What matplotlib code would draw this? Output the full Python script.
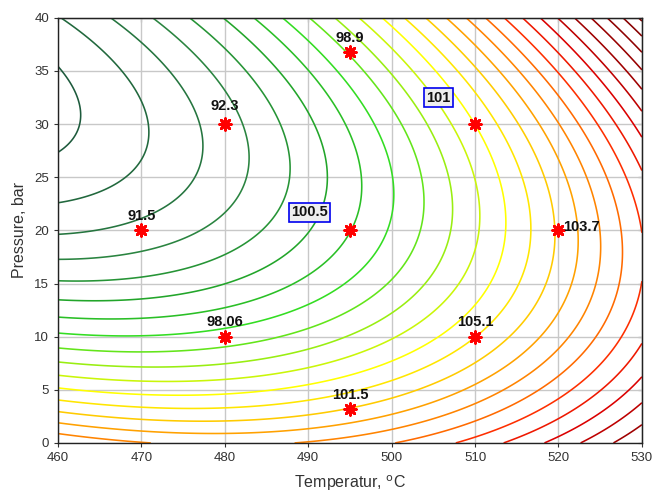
import numpy as np
import matplotlib
matplotlib.use("Agg")
import matplotlib.pyplot as plt
from matplotlib.colors import LinearSegmentedColormap

plt.rcParams["font.family"] = ["Liberation Sans", "DejaVu Sans"]

# fitted response surface (quadratic model)
T_CENTER = 438.8
P_CENTER = 35.6
F_CENTER = 99.975
COEF_TT = 0.000283
COEF_TP = 0.000651
COEF_PP = 0.00164

LEVEL_START = 100.1
LEVEL_STEP = 0.1
LEVEL_COUNT = 28

# design points
point_temp = [470, 480, 495, 510, 495, 520, 480, 510, 495]
point_pres = [20, 30, 36.8, 30, 20, 20, 10, 10, 3.2]
point_text = ["91.5", "92.3", "98.9", "", "", "103.7", "98.06", "105.1", "101.5"]

# boxed contour labels
box_text = ["100.5", "101"]
box_temp = [490.2, 505.6]
box_pres = [21.7, 32.5]

# colour per contour index (green -> yellow -> red)
cmap = LinearSegmentedColormap.from_list(
    "gyr",
    [
        (0 / 27, "#1d5a3c"),
        (3 / 27, "#2a8540"),
        (5 / 27, "#22a52a"),
        (7 / 27, "#33dd22"),
        (9 / 27, "#99ee11"),
        (11 / 27, "#ffff00"),
        (13 / 27, "#ffcc00"),
        (14 / 27, "#ffa000"),
        (16 / 27, "#ff6a00"),
        (17 / 27, "#ff3000"),
        (19 / 27, "#dd0000"),
        (21 / 27, "#a00000"),
        (27 / 27, "#700000"),
    ],
)

temps = np.linspace(460, 530, 400)
press = np.linspace(0, 40, 400)
TT, PP = np.meshgrid(temps, press)
u = TT - T_CENTER
v = PP - P_CENTER
Z = F_CENTER + COEF_TT * u**2 + COEF_TP * u * v + COEF_PP * v**2

levels = LEVEL_START + LEVEL_STEP * np.arange(LEVEL_COUNT)

fig = plt.figure(figsize=(6.55, 4.96), dpi=100)
ax = fig.add_axes([0.0885, 0.107, 0.8915, 0.857])

ax.grid(True, color="#c8c8c8", linewidth=1.0, zorder=0)
ax.set_axisbelow(True)

ax.contour(
    TT, PP, Z,
    levels=levels,
    cmap=cmap,
    vmin=levels[0],
    vmax=levels[-1],
    linewidths=1.15,
    zorder=2,
)

ax.scatter(
    point_temp, point_pres,
    marker=(8, 2, 0),
    s=70,
    color="red",
    linewidths=2.0,
    zorder=4,
)

for t, p, s in zip(point_temp, point_pres, point_text):
    if not s:
        continue
    if s == "103.7":
        ax.text(t + 0.6, p + 0.3, s, ha="left", va="center",
                fontsize=10.5, fontweight="bold", color="#111111", zorder=5)
    else:
        dy = 1.75 if s == "92.3" else 1.35
        ax.text(t, p + dy, s, ha="center", va="center",
                fontsize=10.5, fontweight="bold", color="#111111", zorder=5)

for s, t, p in zip(box_text, box_temp, box_pres):
    ax.text(
        t, p, s,
        ha="center", va="center",
        fontsize=10.5, fontweight="bold", color="#111111", zorder=5,
        bbox=dict(boxstyle="square,pad=0.15", facecolor="#eeeeee",
                  edgecolor="#0000ee", linewidth=1.2),
    )

ax.set_xlim(460, 530)
ax.set_ylim(0, 40)
ax.set_xticks(range(460, 531, 10))
ax.set_yticks(range(0, 41, 5))
ax.tick_params(direction="out", length=3, labelsize=9.5,
               labelcolor="#333333", color="#333333")

top = ax.secondary_xaxis("top")
top.set_xticks(range(460, 531, 10))
top.tick_params(direction="in", length=3, labeltop=False)
right = ax.secondary_yaxis("right")
right.set_yticks(range(0, 41, 5))
right.tick_params(direction="in", length=3, labelright=False)

for spine in ax.spines.values():
    spine.set_linewidth(1.0)
    spine.set_color("#222222")

ax.set_xlabel("Temperatur, $^\\mathrm{o}$C", fontsize=11.5, color="#333333", labelpad=7)
ax.set_ylabel("Pressure, bar", fontsize=11.5, color="#333333", labelpad=5)

fig.savefig("out.png", dpi=100)
